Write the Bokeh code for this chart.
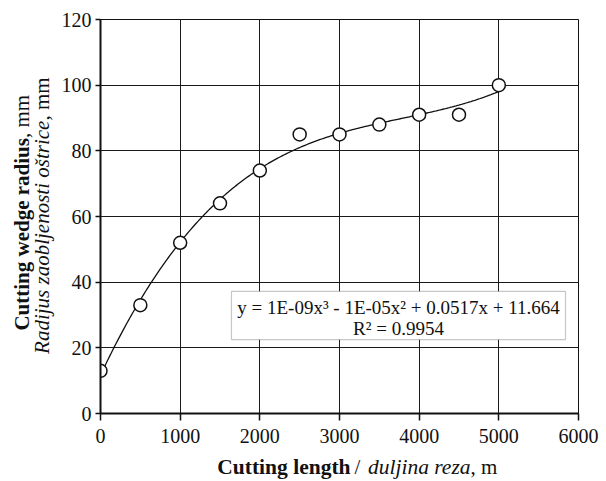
import numpy as np
from bokeh.plotting import figure
from bokeh.models import Range1d, Label, BoxAnnotation, FixedTicker
from bokeh.layouts import row, column
from bokeh.core.properties import value
from bokeh.embed import file_html
from bokeh.resources import INLINE

# ---- data ----
cutting_length = [0, 500, 1000, 1500, 2000, 2500, 3000, 3500, 4000, 4500, 5000]
wedge_radius = [13, 33, 52, 64, 74, 85, 85, 88, 91, 91, 100]
x_ticks = [0, 1000, 2000, 3000, 4000, 5000, 6000]
y_ticks = [0, 20, 40, 60, 80, 100, 120]
equation_text = "y = 1E-09x\u00b3 - 1E-05x\u00b2 + 0.0517x + 11.664"
r2_text = "R\u00b2 = 0.9954"
x_title_parts = ["Cutting length", "/", "duljina reza", ", m"]
y_title1_parts = ["Cutting wedge radius", ", mm"]
y_title2_parts = ["Radijus zaobljenosti o\u0161trice", ", mm"]

# polynomial (3rd order) trend line fitted to the data
coef = np.polyfit(cutting_length, wedge_radius, 3)
xs = np.linspace(min(cutting_length), max(cutting_length), 300)
ys = np.polyval(coef, xs)

FONT = "Liberation Serif"
INK = "#111111"

W, H = 606, 481
LEFT_W = 55
BOTTOM_H = 29
MAIN_W = W - LEFT_W
MAIN_H = H - BOTTOM_H

p = figure(width=MAIN_W, height=MAIN_H, output_backend="svg", toolbar_location=None,
           x_range=Range1d(0, 6000), y_range=Range1d(0, 120),
           min_border_left=45, min_border_right=28, min_border_top=19, min_border_bottom=39)
p.background_fill_color = "white"
p.border_fill_color = "white"
p.outline_line_color = INK
p.outline_line_width = 1

p.xaxis.ticker = FixedTicker(ticks=x_ticks)
p.yaxis.ticker = FixedTicker(ticks=y_ticks)
for ax in (p.xaxis, p.yaxis):
    ax.axis_line_width = 2
    ax.axis_line_color = INK
    ax.major_tick_line_color = INK
    ax.major_tick_line_width = 1.5
    ax.major_tick_in = 0
    ax.minor_tick_line_color = None
    ax.major_label_text_font = FONT
    ax.major_label_text_font_size = "20px"
    ax.major_label_text_color = INK
p.xaxis.major_tick_out = 7
p.yaxis.major_tick_out = 5
p.xaxis.major_label_standoff = 8
p.yaxis.major_label_standoff = 4

for g in (p.xgrid, p.ygrid):
    g.grid_line_color = "#1a1a1a"
    g.grid_line_width = 1

# trend line and data points
p.line(xs, ys, line_color=INK, line_width=1.3)
p.scatter(cutting_length, wedge_radius, marker="circle", size=13,
          fill_color="white", line_color=INK, line_width=1.5)

# equation box
p.add_layout(BoxAnnotation(left=1644, right=5837, top=37.2, bottom=22.5,
                           fill_color="white", fill_alpha=1.0,
                           line_color="#444444", line_width=1.2))
p.add_layout(Label(x=3741, y=32.2, text=equation_text, text_font=FONT,
                   text_font_size="19px", text_align="center", text_baseline="middle",
                   text_color=INK))
p.add_layout(Label(x=3741, y=25.9, text=r2_text, text_font=FONT,
                   text_font_size="19px", text_align="center", text_baseline="middle",
                   text_color=INK))


def strip(width, height):
    f = figure(width=width, height=height, output_backend="svg", toolbar_location=None,
               x_range=Range1d(0, width), y_range=Range1d(0, height),
               x_axis_type=None, y_axis_type=None, title=None,
               min_border_left=0, min_border_right=0, min_border_top=0, min_border_bottom=0)
    f.outline_line_color = None
    f.grid.visible = False
    f.background_fill_color = "white"
    f.border_fill_color = "white"
    return f


# y axis title strip (two rotated lines with mixed styles)
left = strip(LEFT_W, MAIN_H)
ang = np.pi / 2
y1 = MAIN_H - 136
y2 = MAIN_H - 116
left.text(x=[21], y=[y1], text=[y_title1_parts[0]], angle=ang, text_font=value(FONT),
          text_font_size="21px", text_font_style="bold", text_align="right",
          text_baseline="middle", text_color=INK)
left.text(x=[21], y=[y1], text=[y_title1_parts[1]], angle=ang, text_font=value(FONT),
          text_font_size="21px", text_align="left", text_baseline="middle", text_color=INK)
left.text(x=[41], y=[y2], text=[y_title2_parts[0]], angle=ang, text_font=value(FONT),
          text_font_size="21px", text_font_style="italic", text_align="right",
          text_baseline="middle", text_color=INK)
left.text(x=[41], y=[y2], text=[y_title2_parts[1]], angle=ang, text_font=value(FONT),
          text_font_size="21px", text_align="left", text_baseline="middle", text_color=INK)

# x axis title strip (mixed styles)
bottom = strip(W, BOTTOM_H)
ty = H - 466
bottom.text(x=[350], y=[ty], text=[x_title_parts[0]], text_font=value(FONT),
            text_font_size="21.5px", text_font_style="bold", text_align="right",
            text_baseline="middle", text_color=INK)
bottom.text(x=[357], y=[ty], text=[x_title_parts[1]], text_font=value(FONT),
            text_font_size="21px", text_align="center", text_baseline="middle", text_color=INK)
bottom.text(x=[470], y=[ty], text=[x_title_parts[2]], text_font=value(FONT),
            text_font_size="21.5px", text_font_style="italic", text_align="right",
            text_baseline="middle", text_color=INK)
bottom.text(x=[470], y=[ty], text=[x_title_parts[3]], text_font=value(FONT),
            text_font_size="21px", text_align="left", text_baseline="middle", text_color=INK)

layout = column(row(left, p, spacing=0), bottom, spacing=0)
open("out.html", "w").write(file_html(layout, INLINE))
